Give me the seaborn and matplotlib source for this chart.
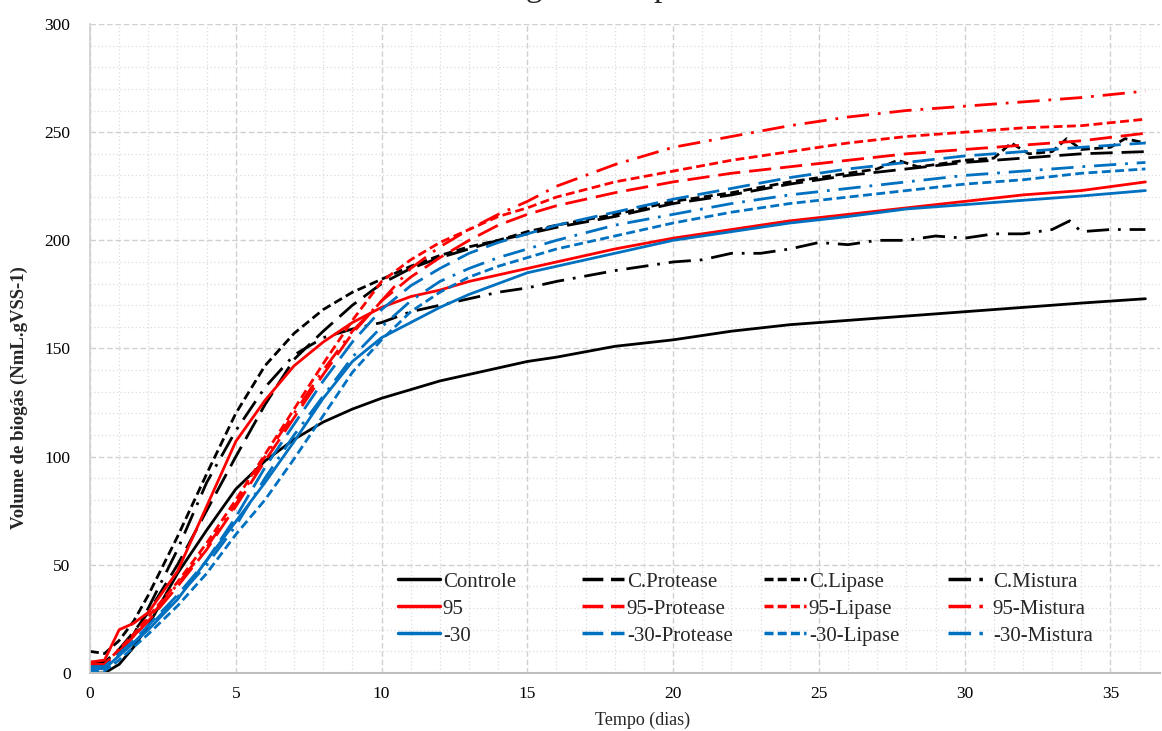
import matplotlib
matplotlib.use("Agg")
import matplotlib.pyplot as plt
from matplotlib.ticker import MultipleLocator
from matplotlib.lines import Line2D
import seaborn as sns

# ---------------- data ----------------
days = [0, 0.5, 1, 1.5, 2, 3, 4, 5, 6, 7, 8, 9, 10, 11, 12, 13, 14, 15, 16,
        18, 20, 22, 24, 26, 28, 30, 32, 34, 36.2]

controle = [0, 0, 4, 12, 22, 46, 66, 85, 98, 108, 116, 122, 127, 131, 135, 138, 141, 144, 146,
            151, 154, 158, 161, 163, 165, 167, 169, 171, 173]
c_protease = [5, 5, 11, 19, 28, 50, 75, 100, 124, 145, 158, 170, 180, 187, 192, 196, 200, 203, 206,
              211, 217, 221, 226, 230, 233, 236, 238, 240, 241]

days_c_lipase = [0, 0.5, 1, 1.5, 2, 3, 4, 5, 6, 7, 8, 9, 10, 11, 12, 13, 14, 15, 16, 18, 20, 22,
                 24, 26, 27, 27.7, 28.4, 29, 30, 31, 31.6, 32.2, 33, 33.5, 34, 35, 35.5, 36.2]
c_lipase = [10, 9, 15, 24, 36, 63, 92, 120, 142, 157, 168, 176, 182, 188, 193, 197, 200, 204, 207,
            212, 218, 222, 227, 231, 233, 237, 234, 235, 237, 238, 245, 240, 241, 247, 242, 243, 247, 245]

days_c_mistura = [0, 0.5, 1, 1.5, 2, 3, 4, 4.5, 5, 6, 7, 8, 9, 10, 11, 12, 13, 14, 15, 16, 18, 20,
                  21, 22, 23, 24, 25, 26, 27, 28, 29, 30, 31, 32, 33, 33.6, 34, 35, 36.2]
c_mistura = [3, 3, 9, 18, 30, 57, 88, 100, 112, 132, 147, 155, 159, 162, 167, 170, 173, 176, 178, 181,
             186, 190, 191, 194, 194, 196, 199, 198, 200, 200, 202, 201, 203, 203, 205, 209, 204, 205, 205]

t95 = [5, 6, 20, 23, 28, 47, 77, 107, 126, 142, 153, 162, 169, 174, 177, 181, 184, 187, 190,
       196, 201, 205, 209, 212, 215, 218, 221, 223, 227]
t95_protease = [3, 3, 10, 17, 24, 40, 57, 77, 98, 118, 138, 157, 172, 183, 192, 200, 207, 212, 216,
                222, 227, 231, 234, 237, 240, 242, 244, 246, 249.5]
t95_lipase = [4, 4, 11, 18, 26, 42, 60, 80, 101, 122, 143, 163, 181, 191, 199, 205, 211, 215, 220,
              227, 232, 237, 241, 245, 248, 250, 252, 253, 256]
t95_mistura = [4, 4, 10, 17, 25, 41, 58, 78, 100, 120, 140, 158, 172, 187, 197, 205, 212, 218, 225,
               235, 243, 248, 253, 257, 260, 262, 264, 266, 269]

m30 = [2, 2, 8, 14, 20, 34, 52, 70, 88, 107, 127, 144, 155, 162, 169, 175, 180, 185, 188,
       194, 200, 204, 208, 211, 214.5, 216.5, 218.5, 220.5, 223]
m30_protease = [3, 3, 9, 15, 22, 36, 52, 72, 95, 115, 135, 153, 168, 179, 187, 194, 199, 203, 207,
                213, 219, 224, 229, 233, 236, 239, 241, 243, 245]
m30_lipase = [1, 1, 6, 12, 18, 31, 46, 64, 80, 99, 119, 139, 154, 167, 176, 183, 188, 192, 196,
              202, 208, 213, 217, 220, 223, 226, 228, 231, 233]
m30_mistura = [2, 2, 8, 14, 21, 35, 50, 68, 90, 110, 128, 146, 160, 172, 181, 187, 192, 196, 200,
               207, 212, 217, 221, 224, 227, 230, 232, 234, 236]

labels = ["Controle", "C.Protease", "C.Lipase", "C.Mistura",
          "95", "95-Protease", "95-Lipase", "95-Mistura",
          "-30", "-30-Protease", "-30-Lipase", "-30-Mistura"]
title_text = "Volume de biogás x tempo"
xlabel_text = "Tempo (dias)"
ylabel_text = "Volume de biogás (NmL.gVSS-1)"

# ---------------- style ----------------
sns.set_theme(style="white")
plt.rcParams["font.family"] = ["Liberation Serif", "DejaVu Serif"]

BLACK, RED, BLUE = "#000000", "#FF0000", "#0070C0"
SOLID = "-"
LONG = (0, (8, 3.2))
SHORT = (0, (3.2, 1.6))
DASHDOT = (0, (8, 3.2, 1, 3.2))
LEG_STYLE = {SOLID: "-", LONG: (0, (6, 2.2)), SHORT: (0, (2.6, 1.2)), DASHDOT: (0, (6.5, 2.4, 1, 2.4))}
LW = 2.0

series = [
    (days, controle, BLACK, SOLID),
    (days, c_protease, BLACK, LONG),
    (days_c_lipase, c_lipase, BLACK, SHORT),
    (days_c_mistura, c_mistura, BLACK, DASHDOT),
    (days, t95, RED, SOLID),
    (days, t95_protease, RED, LONG),
    (days, t95_lipase, RED, SHORT),
    (days, t95_mistura, RED, DASHDOT),
    (days, m30, BLUE, SOLID),
    (days, m30_protease, BLUE, LONG),
    (days, m30_lipase, BLUE, SHORT),
    (days, m30_mistura, BLUE, DASHDOT),
]

W, H = 1162, 731
fig = plt.figure(figsize=(W / 100, H / 100), dpi=100)
ax = fig.add_axes([90 / W, 1 - 673 / H, (1160 - 90) / W, (673 - 24) / H])

for (x, y, c, ls), lab in zip(series, labels):
    sns.lineplot(x=x, y=y, color=c, linestyle=ls, linewidth=LW, ax=ax,
                 legend=False, sort=False, estimator=None)

ax.set_xlim(0, 36.7)
ax.set_ylim(0, 300)
ax.xaxis.set_major_locator(MultipleLocator(5))
ax.xaxis.set_minor_locator(MultipleLocator(1))
ax.yaxis.set_major_locator(MultipleLocator(50))
ax.yaxis.set_minor_locator(MultipleLocator(10))
ax.grid(which="major", color="#D0D0D0", linestyle=(0, (4, 2)), linewidth=1.0)
ax.grid(which="minor", color="#DCDCDC", linestyle=(0, (1, 2)), linewidth=0.9)
ax.set_axisbelow(True)
for s in ["top", "right"]:
    ax.spines[s].set_visible(False)
ax.spines["left"].set_color("#D0D0D0")
ax.spines["left"].set_linewidth(1.2)
ax.spines["bottom"].set_color("#BFBFBF")
ax.spines["bottom"].set_linewidth(1.5)
ax.tick_params(axis="both", which="both", length=0, labelsize=12.5, colors="black")
ax.tick_params(axis="y", pad=14)
ax.tick_params(axis="x", pad=9)

ax.set_xlabel(xlabel_text, fontsize=13)
ax.set_ylabel(ylabel_text, fontsize=13.5, fontweight="bold")
ax.xaxis.set_label_coords((643 - 90) / 1070, -(720 - 673) / 649)
ax.xaxis.label.set_va("center")
ax.yaxis.set_label_coords(-(90 - 19) / 1070, (673 - 398) / 649)
ax.yaxis.label.set_va("center")

# title: only the descenders show at the top edge, as in the reference
fig.text(332 / W, 1 + 4.0 / H, title_text, fontsize=24, ha="left", va="baseline")

# legend: four columns placed individually
col_x = [398, 582, 764, 948]
legs = []
for ci in range(4):
    hs, ls_ = [], []
    for ri in range(3):
        idx = ri * 4 + ci
        _, _, c, ls = series[idx]
        hs.append(Line2D([], [], color=c, linestyle=LEG_STYLE[ls], linewidth=LW + 0.5))
        ls_.append(labels[idx])
    leg = ax.legend(hs, ls_, loc="upper left",
                    bbox_to_anchor=(col_x[ci] / W, 1 - 572 / H),
                    bbox_transform=fig.transFigure, frameon=False, fontsize=15,
                    handlelength=2.0, handletextpad=0.15, labelspacing=0.36,
                    borderpad=0, borderaxespad=0)
    legs.append(leg)
for leg in legs[:-1]:
    ax.add_artist(leg)

fig.savefig("out.png", dpi=100)
